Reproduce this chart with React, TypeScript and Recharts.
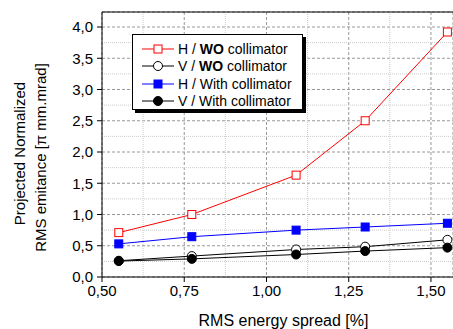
import React from 'react';
import { LineChart, Line, XAxis, YAxis, CartesianGrid, ReferenceLine } from 'recharts';

const energySpread = [0.551, 0.773, 1.09, 1.3, 1.55];
const hWithout = [0.71, 1.0, 1.63, 2.5, 3.92];
const vWithout = [0.26, 0.335, 0.44, 0.485, 0.595];
const hWith = [0.53, 0.645, 0.75, 0.8, 0.86];
const vWith = [0.255, 0.29, 0.36, 0.415, 0.47];

const xTicks = [0.5, 0.75, 1.0, 1.25, 1.5];
const xMinor = [0.625, 0.875, 1.125, 1.375];
const yTicks = [0, 0.5, 1.0, 1.5, 2.0, 2.5, 3.0, 3.5, 4.0];
const yMinor = [0.25, 0.75, 1.25, 1.75, 2.25, 2.75, 3.25, 3.75];
const xMax = 1.567;
const yMax = 4.24;

const data = energySpread.map((x, i) => ({
  x,
  hWo: hWithout[i],
  vWo: vWithout[i],
  hW: hWith[i],
  vW: vWith[i],
}));

const font = '"Liberation Sans", Arial, sans-serif';

const Square = (color: string, filled: boolean) => (p: any) => (
  <rect key={p.index} x={p.cx - 4} y={p.cy - 4} width={8} height={8}
    fill={filled ? color : '#fff'} stroke={color} strokeWidth={1} />
);
const Circle = (filled: boolean) => (p: any) => (
  <circle key={p.index} cx={p.cx} cy={p.cy} r={4.5}
    fill={filled ? '#000' : '#fff'} stroke="#000" strokeWidth={1} />
);

const YLabel = (props: any) => {
  const vb = props.viewBox;
  const c1 = vb.y + vb.height / 2 + 9;
  const c2 = vb.y + vb.height / 2 + 13;
  return (
    <g style={{ fontFamily: font, fontSize: 15 }} fill="#000">
      <text x={19} y={c1} transform={`rotate(-90, 19, ${c1})`} textAnchor="middle" dominantBaseline="central">
        Projected Normalized
      </text>
      <text x={40} y={c2} transform={`rotate(-90, 40, ${c2})`} textAnchor="middle" dominantBaseline="central">
        RMS emitance [π mm.mrad]
      </text>
    </g>
  );
};

const XLabel = (props: any) => {
  const vb = props.viewBox;
  return (
    <text x={vb.x + vb.width / 2 + 6} y={vb.y + vb.height - 3} textAnchor="middle"
      style={{ fontFamily: font, fontSize: 16 }} fill="#000">
      RMS energy spread [%]
    </text>
  );
};

const legendItems = [
  { pre: 'H / ', bold: 'WO', post: ' collimator', color: '#ff0000', kind: 'sq', filled: false },
  { pre: 'V / ', bold: 'WO', post: ' collimator', color: '#000', kind: 'ci', filled: false },
  { pre: 'H / With collimator', bold: '', post: '', color: '#0000ff', kind: 'sq', filled: true },
  { pre: 'V / With collimator', bold: '', post: '', color: '#000', kind: 'ci', filled: true },
];

const ChartLegend = () => (
  <div style={{
    position: 'absolute', left: 132, top: 34, width: 169, height: 74,
    border: '1px solid #000', background: '#fff', boxShadow: '3px 3px 0 #000',
    fontFamily: font, fontSize: 14,
  }}>
    {legendItems.map((it, i) => (
      <div key={i} style={{ position: 'absolute', left: 8, top: 5 + i * 17.5, height: 17, display: 'flex', alignItems: 'center', whiteSpace: 'nowrap' }}>
        <svg width={34} height={12}>
          <line x1={1} y1={6} x2={33} y2={6} stroke={it.color} strokeWidth={1} />
          {it.kind === 'sq'
            ? <rect x={13} y={2} width={8} height={8} fill={it.filled ? it.color : '#fff'} stroke={it.color} />
            : <circle cx={17} cy={6} r={4.5} fill={it.filled ? '#000' : '#fff'} stroke="#000" />}
        </svg>
        <span style={{ marginLeft: 3 }}>
          {it.pre}{it.bold && <b>{it.bold}</b>}{it.post}
        </span>
      </div>
    ))}
  </div>
);

const fmtY = (v: number) => v.toFixed(1).replace('.', ',');
const fmtX = (v: number) => v.toFixed(2).replace('.', ',');

export default function App() {
  return (
    <div style={{ position: 'absolute', left: 0, top: 0, width: 453, height: 329, background: '#fff' }}>
      <LineChart width={453} height={329} data={data} margin={{ top: 12, right: 0, left: 0, bottom: 0 }}>
        <CartesianGrid stroke="#999" strokeDasharray="3 2" />
        {yMinor.map((v) => (
          <ReferenceLine key={'ym' + v} y={v} stroke="#ccc" strokeDasharray="1 1" />
        ))}
        {xMinor.map((v) => (
          <ReferenceLine key={'xm' + v} x={v} stroke="#ccc" strokeDasharray="1 1" />
        ))}
        <ReferenceLine y={yMax} stroke="#000" />
        <XAxis type="number" dataKey="x" domain={[0.5, xMax]} ticks={xTicks} tickFormatter={fmtX}
          allowDataOverflow height={52} stroke="#000" tickSize={5} tickMargin={3}
          tick={{ fill: '#000', fontSize: 15, fontFamily: font }} label={<XLabel />} />
        <YAxis type="number" domain={[0, yMax]} ticks={yTicks} tickFormatter={fmtY}
          allowDataOverflow width={102} stroke="#000" tickSize={5} tickMargin={4}
          tick={{ fill: '#000', fontSize: 15, fontFamily: font }} label={<YLabel />} />
        <Line dataKey="vWo" stroke="#000" strokeWidth={1} dot={Circle(false)} isAnimationActive={false} />
        <Line dataKey="vW" stroke="#000" strokeWidth={1} dot={Circle(true)} isAnimationActive={false} />
        <Line dataKey="hW" stroke="#0000ff" strokeWidth={1} dot={Square('#0000ff', true)} isAnimationActive={false} />
        <Line dataKey="hWo" stroke="#ff0000" strokeWidth={1} dot={Square('#ff0000', false)} isAnimationActive={false} />
      </LineChart>
      <ChartLegend />
    </div>
  );
}
